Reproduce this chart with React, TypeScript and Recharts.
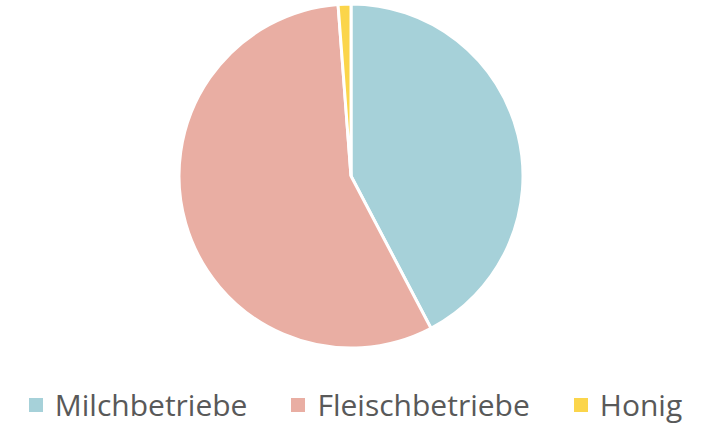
import { PieChart, Pie, Cell, Legend } from "recharts";

const categories = ["Milchbetriebe", "Fleischbetriebe", "Honig"];
const shares = [42.3, 56.5, 1.2];
const colors = ["#a6d1d9", "#e9aea3", "#fbd54b"];

const data = categories.map((name, i) => ({ name, value: shares[i] }));

function LegendRow() {
  return (
    <div
      style={{
        display: "flex",
        justifyContent: "center",
        alignItems: "center",
        gap: 44,
        fontFamily: "'Open Sans', sans-serif",
        fontSize: 30,
        color: "#595959",
        lineHeight: 1,
      }}
    >
      {categories.map((c, i) => (
        <div key={c} style={{ display: "flex", alignItems: "center", gap: 12 }}>
          <span style={{ width: 14, height: 14, background: colors[i], display: "inline-block" }} />
          <span>{c}</span>
        </div>
      ))}
    </div>
  );
}

export default function App() {
  return (
    <div style={{ position: "absolute", left: 0, top: 0, width: 711, height: 426, background: "#fff" }}>
      <PieChart width={711} height={426} margin={{ top: 0, right: 0, bottom: 0, left: 0 }}>
        <Pie
          data={data}
          dataKey="value"
          nameKey="name"
          cx={351}
          cy={176}
          outerRadius={172}
          startAngle={90}
          endAngle={-270}
          stroke="#ffffff"
          strokeWidth={3}
          isAnimationActive={false}
        >
          {data.map((d, i) => (
            <Cell key={d.name} fill={colors[i]} />
          ))}
        </Pie>
        <Legend
          verticalAlign="bottom"
          content={() => <LegendRow />}
          wrapperStyle={{ bottom: 6, left: 0, width: 711 }}
        />
      </PieChart>
    </div>
  );
}
